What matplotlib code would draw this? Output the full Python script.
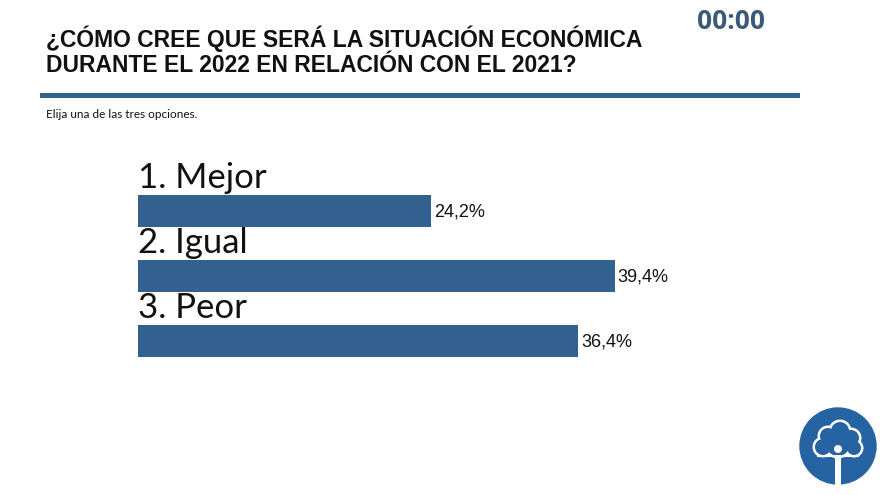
import matplotlib
matplotlib.use('Agg')
import matplotlib.pyplot as plt
from matplotlib.patches import Circle, Rectangle

# survey data
options = ['1. Mejor', '2. Igual', '3. Peor']
percentages = [24.2, 39.4, 36.4]
value_labels = ['24,2%', '39,4%', '36,4%']

title_lines = ['¿CÓMO CREE QUE SERÁ LA SITUACIÓN ECONÓMICA',
               'DURANTE EL 2022 EN RELACIÓN CON EL 2021?']
subtitle = 'Elija una de las tres opciones.'
timer = '00:00'

bar_color = '#33618f'
W, H = 880, 495

fig = plt.figure(figsize=(8.8, 4.95), dpi=100)
fig.patch.set_facecolor('white')

def fx(px):
    return px / W

def fy(py):
    return 1 - py / H

# header
fig.text(fx(46), fy(47), title_lines[0], fontsize=16.5, fontweight='bold',
         family='Liberation Sans', va='baseline', ha='left', color='#111111')
fig.text(fx(46), fy(72), title_lines[1], fontsize=16.5, fontweight='bold',
         family='Liberation Sans', va='baseline', ha='left', color='#111111')
fig.text(fx(731), fy(29), timer, fontsize=19, fontweight='bold',
         family='Open Sans', va='baseline', ha='center', color='#3b5a7a')
fig.add_artist(Rectangle((fx(40), fy(98)), fx(800) - fx(40), 5 / H,
                         transform=fig.transFigure, color='#34628f', lw=0))
fig.text(fx(46), fy(114), subtitle, fontsize=8.5, family='Lato',
         va='center', ha='left', color='#111111')

# bars
ax = fig.add_axes([fx(138), fy(406), fx(800) - fx(138), 260 / H])
pos = list(range(len(options)))
ax.barh(pos, percentages, height=0.5, color=bar_color, edgecolor='none')
ax.set_xlim(0, 662 / 12.1)
ax.set_ylim(3, -1)
for i, (name, v, lab) in enumerate(zip(options, percentages, value_labels)):
    ax.text(0, i - 0.36, name, fontsize=25, family='Lato', va='baseline',
            ha='left', color='#111111')
    ax.text(v + 0.25, i + 0.02, lab, fontsize=13, family='Liberation Sans',
            va='center', ha='left', color='#111111')
ax.axis('off')

# logo
lax = fig.add_axes([fx(795), fy(492), 86 / W, 92 / H])
lax.set_xlim(-43, 43)
lax.set_ylim(-46, 46)
lax.set_aspect('equal')
lax.axis('off')
logo_blue = '#2563a3'
lax.add_patch(Circle((0, 0), 38, color=logo_blue))
lobes = [(-15, -1, 8), (-10, 10, 8), (2, 15, 9), (13, 8, 8), (16, -2, 7), (0, 2, 12)]
for cx, cy, r in lobes:
    lax.add_patch(Circle((cx, cy), r + 2.5, color='white', lw=0))
for cx, cy, r in lobes:
    lax.add_patch(Circle((cx, cy), r, color=logo_blue, lw=0))
lax.add_patch(Rectangle((-21, -11), 42, 2.5, color='white', lw=0))
lax.add_patch(Rectangle((-2.7, -40), 5.4, 30, color='white', lw=0))
lax.add_patch(Circle((0, -3), 4, color='white', lw=0))

plt.savefig('out.png', dpi=100, facecolor='white')
plt.close()
